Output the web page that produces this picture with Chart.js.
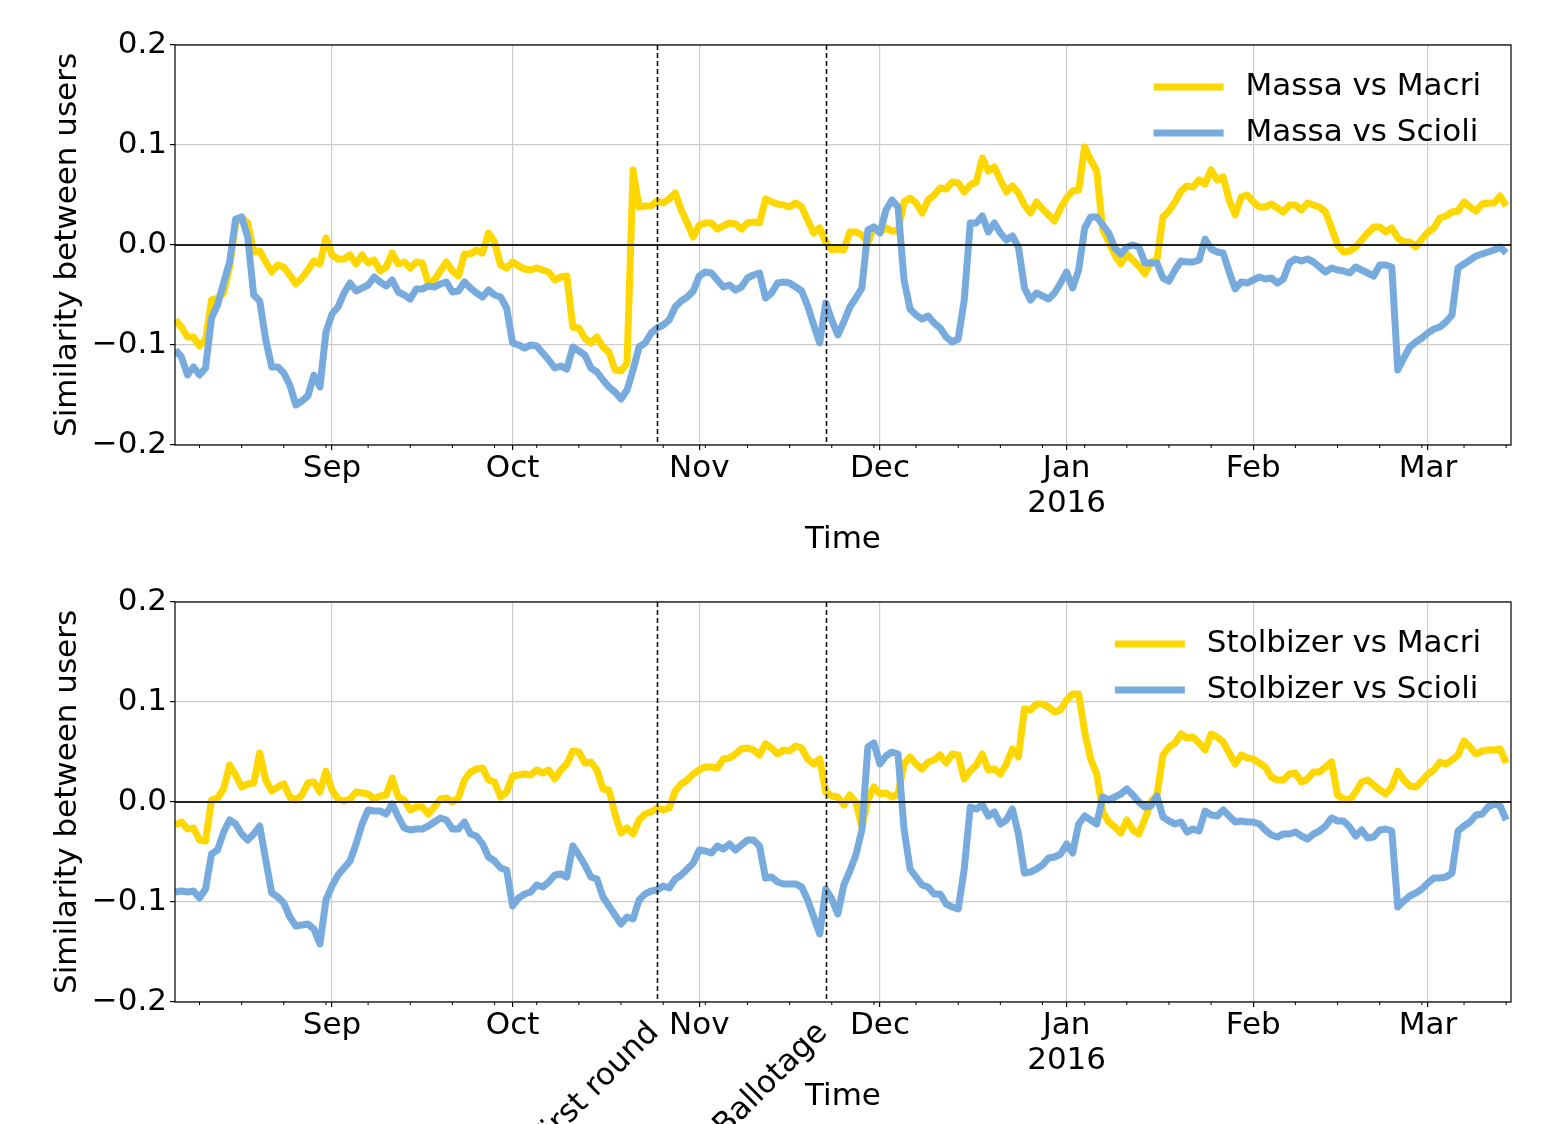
<!DOCTYPE html>
<html>
<head>
<meta charset="utf-8">
<script src="https://cdn.jsdelivr.net/npm/chart.js@4.4.1/dist/chart.umd.min.js"></script>
<style>
  body { margin: 0; background: #fff; }
  #wrap { position: relative; width: 1557px; height: 1124px; }
  canvas { position: absolute; left: 0; }
</style>
</head>
<body>
<div id="wrap">
  <canvas id="top" width="1557" height="557" style="top:0"></canvas>
  <canvas id="bottom" width="1557" height="567" style="top:557px"></canvas>
</div>
<script>
// one value per day, starting at firstDate
const firstDate = '2015-08-06'
const firstMonday = '2015-08-10'
const monthTicks = ['2015-09-01', '2015-10-01', '2015-11-01', '2015-12-01', '2016-01-01', '2016-02-01', '2016-03-01']
const monthLabels = ['Sep', 'Oct', 'Nov', 'Dec', ['Jan', '2016'], 'Feb', 'Mar']
const eventDates = ['2015-10-25', '2015-11-22']
const eventLabels = ['First round', 'Ballotage']
const yTicks = [-0.2, -0.1, 0, 0.1, 0.2]

const massaMacri = [
  -0.075, -0.082, -0.092, -0.092, -0.101, -0.095, -0.055, -0.053, -0.048, -0.022,
  0.022, 0.028, 0.022, -0.007, -0.006, -0.017, -0.027, -0.020, -0.022, -0.030,
  -0.039, -0.033, -0.025, -0.016, -0.019, 0.007, -0.010, -0.014, -0.014, -0.010,
  -0.019, -0.010, -0.018, -0.015, -0.026, -0.022, -0.008, -0.019, -0.017, -0.023,
  -0.017, -0.018, -0.038, -0.035, -0.026, -0.017, -0.026, -0.031, -0.009, -0.009,
  -0.005, -0.008, 0.012, 0.003, -0.020, -0.023, -0.017, -0.021, -0.024, -0.025,
  -0.023, -0.025, -0.027, -0.035, -0.032, -0.031, -0.082, -0.083, -0.093, -0.098,
  -0.092, -0.102, -0.107, -0.125, -0.126, -0.118, 0.075, 0.038, 0.039, 0.039,
  0.044, 0.042, 0.046, 0.052, 0.035, 0.022, 0.008, 0.020, 0.022, 0.022,
  0.016, 0.019, 0.022, 0.021, 0.016, 0.022, 0.023, 0.022, 0.046, 0.043,
  0.041, 0.040, 0.038, 0.042, 0.038, 0.025, 0.012, 0.017, 0.003, -0.005,
  -0.004, -0.005, 0.013, 0.013, 0.010, 0.002, 0.018, 0.013, 0.017, 0.014,
  0.014, 0.043, 0.047, 0.042, 0.032, 0.045, 0.050, 0.057, 0.056, 0.063,
  0.062, 0.053, 0.060, 0.063, 0.087, 0.074, 0.078, 0.065, 0.053, 0.059,
  0.052, 0.040, 0.032, 0.043, 0.036, 0.030, 0.024, 0.037, 0.047, 0.054,
  0.055, 0.098, 0.085, 0.074, 0.015, 0.003, -0.010, -0.019, -0.009, -0.015,
  -0.021, -0.029, -0.017, -0.015, 0.028, 0.034, 0.043, 0.054, 0.059, 0.058,
  0.065, 0.061, 0.075, 0.065, 0.068, 0.045, 0.030, 0.048, 0.050, 0.043,
  0.038, 0.038, 0.041, 0.037, 0.033, 0.040, 0.040, 0.035, 0.042, 0.040,
  0.038, 0.033, 0.017, 0.000, -0.007, -0.006, -0.002, 0.005, 0.012, 0.018,
  0.018, 0.013, 0.017, 0.007, 0.003, 0.003, -0.002, 0.006, 0.013, 0.017,
  0.027, 0.029, 0.033, 0.034, 0.043, 0.038, 0.034, 0.041, 0.042, 0.042,
  0.049, 0.039
]

const massaScioli = [
  -0.105, -0.112, -0.130, -0.122, -0.130, -0.123, -0.073, -0.060, -0.038, -0.017,
  0.026, 0.028, 0.008, -0.050, -0.056, -0.095, -0.122, -0.122, -0.128, -0.140,
  -0.160, -0.156, -0.151, -0.130, -0.142, -0.087, -0.069, -0.062, -0.048, -0.038,
  -0.046, -0.043, -0.040, -0.032, -0.037, -0.041, -0.035, -0.047, -0.050, -0.054,
  -0.044, -0.044, -0.041, -0.042, -0.039, -0.037, -0.047, -0.046, -0.037, -0.043,
  -0.048, -0.052, -0.045, -0.050, -0.052, -0.063, -0.098, -0.100, -0.103, -0.100,
  -0.101, -0.108, -0.115, -0.123, -0.121, -0.124, -0.102, -0.106, -0.110, -0.123,
  -0.127, -0.135, -0.142, -0.147, -0.154, -0.145, -0.125, -0.102, -0.098, -0.088,
  -0.083, -0.080, -0.075, -0.062, -0.056, -0.052, -0.046, -0.031, -0.027, -0.028,
  -0.035, -0.042, -0.040, -0.045, -0.042, -0.033, -0.030, -0.028, -0.053, -0.048,
  -0.038, -0.037, -0.038, -0.042, -0.046, -0.061, -0.080, -0.098, -0.058, -0.075,
  -0.090, -0.077, -0.062, -0.053, -0.043, 0.015, 0.018, 0.012, 0.035, 0.045,
  0.038, -0.035, -0.064, -0.070, -0.074, -0.071, -0.078, -0.083, -0.092, -0.097,
  -0.094, -0.055, 0.022, 0.022, 0.029, 0.013, 0.022, 0.012, 0.005, 0.009,
  -0.002, -0.043, -0.055, -0.048, -0.051, -0.054, -0.048, -0.038, -0.027, -0.043,
  -0.025, 0.017, 0.028, 0.028, 0.020, 0.012, -0.003, -0.009, -0.002, 0.000,
  -0.002, -0.018, -0.018, -0.018, -0.033, -0.036, -0.025, -0.016, -0.017, -0.017,
  -0.015, 0.006, -0.004, -0.007, -0.008, -0.027, -0.044, -0.037, -0.038, -0.035,
  -0.032, -0.034, -0.033, -0.038, -0.034, -0.018, -0.014, -0.016, -0.014, -0.017,
  -0.022, -0.027, -0.023, -0.025, -0.026, -0.028, -0.022, -0.025, -0.028, -0.031,
  -0.020, -0.020, -0.022, -0.125, -0.113, -0.102, -0.097, -0.093, -0.088, -0.084,
  -0.082, -0.077, -0.070, -0.023, -0.019, -0.015, -0.011, -0.009, -0.007, -0.005,
  -0.002, -0.008
]

const stolbizerMacri = [
  -0.023, -0.020, -0.027, -0.026, -0.038, -0.039, 0.002, 0.004, 0.013, 0.037,
  0.027, 0.015, 0.018, 0.019, 0.049, 0.022, 0.011, 0.015, 0.018, 0.005,
  0.002, 0.007, 0.019, 0.020, 0.010, 0.031, 0.012, 0.003, 0.001, 0.003,
  0.010, 0.009, 0.008, 0.003, 0.006, 0.007, 0.024, 0.005, 0.002, -0.008,
  -0.005, -0.005, -0.012, -0.005, 0.003, 0.004, 0.000, 0.004, 0.022, 0.030,
  0.033, 0.034, 0.022, 0.020, 0.005, 0.010, 0.026, 0.027, 0.028, 0.027,
  0.032, 0.029, 0.032, 0.023, 0.032, 0.038, 0.051, 0.050, 0.039, 0.040,
  0.032, 0.013, 0.012, -0.012, -0.031, -0.026, -0.032, -0.018, -0.012, -0.010,
  -0.006, -0.008, -0.006, 0.011, 0.018, 0.022, 0.028, 0.032, 0.035, 0.035,
  0.034, 0.043, 0.044, 0.048, 0.053, 0.054, 0.052, 0.047, 0.058, 0.054,
  0.048, 0.052, 0.051, 0.056, 0.054, 0.043, 0.038, 0.043, 0.010, 0.006,
  0.005, -0.003, 0.007, 0.000, -0.025, 0.002, 0.015, 0.008, 0.009, 0.005,
  0.008, 0.038, 0.045, 0.038, 0.033, 0.040, 0.042, 0.047, 0.039, 0.048,
  0.047, 0.023, 0.031, 0.037, 0.048, 0.032, 0.033, 0.028, 0.038, 0.053,
  0.045, 0.093, 0.092, 0.098, 0.098, 0.095, 0.090, 0.092, 0.102, 0.108,
  0.108, 0.070, 0.043, 0.028, -0.010, -0.020, -0.025, -0.031, -0.018, -0.028,
  -0.032, -0.017, 0.000, 0.007, 0.047, 0.055, 0.059, 0.068, 0.064, 0.065,
  0.059, 0.052, 0.068, 0.065, 0.060, 0.049, 0.038, 0.047, 0.044, 0.043,
  0.039, 0.035, 0.025, 0.022, 0.022, 0.028, 0.029, 0.020, 0.023, 0.030,
  0.030, 0.035, 0.040, 0.007, 0.003, 0.002, 0.010, 0.020, 0.022, 0.017,
  0.012, 0.008, 0.015, 0.031, 0.022, 0.016, 0.015, 0.021, 0.028, 0.032,
  0.040, 0.038, 0.042, 0.047, 0.061, 0.055, 0.048, 0.051, 0.052, 0.052,
  0.053, 0.039
]

const stolbizerScioli = [
  -0.090, -0.089, -0.090, -0.089, -0.096, -0.087, -0.052, -0.048, -0.030, -0.018,
  -0.022, -0.032, -0.038, -0.032, -0.024, -0.058, -0.091, -0.095, -0.101, -0.115,
  -0.124, -0.123, -0.122, -0.127, -0.142, -0.098, -0.084, -0.073, -0.066, -0.059,
  -0.042, -0.022, -0.008, -0.009, -0.009, -0.012, -0.002, -0.015, -0.026, -0.028,
  -0.027, -0.027, -0.024, -0.020, -0.016, -0.018, -0.027, -0.027, -0.020, -0.032,
  -0.034, -0.042, -0.055, -0.059, -0.066, -0.068, -0.104, -0.096, -0.092, -0.090,
  -0.083, -0.085, -0.080, -0.073, -0.072, -0.075, -0.044, -0.053, -0.063, -0.075,
  -0.077, -0.095, -0.104, -0.113, -0.122, -0.115, -0.117, -0.098, -0.092, -0.089,
  -0.088, -0.084, -0.086, -0.077, -0.073, -0.067, -0.061, -0.048, -0.049, -0.051,
  -0.044, -0.047, -0.042, -0.048, -0.043, -0.038, -0.038, -0.044, -0.076, -0.075,
  -0.080, -0.082, -0.082, -0.082, -0.085, -0.098, -0.115, -0.132, -0.087, -0.097,
  -0.112, -0.083, -0.069, -0.053, -0.028, 0.055, 0.059, 0.038, 0.046, 0.050,
  0.048, -0.027, -0.067, -0.075, -0.083, -0.085, -0.092, -0.092, -0.102, -0.105,
  -0.107, -0.067, -0.005, -0.007, -0.003, -0.014, -0.010, -0.022, -0.018, -0.007,
  -0.032, -0.071, -0.070, -0.067, -0.063, -0.056, -0.055, -0.052, -0.042, -0.051,
  -0.022, -0.014, -0.018, -0.022, 0.005, 0.002, 0.005, 0.008, 0.013, 0.007,
  0.000, -0.005, -0.004, 0.006, -0.015, -0.019, -0.022, -0.020, -0.030, -0.027,
  -0.029, -0.009, -0.013, -0.014, -0.008, -0.014, -0.020, -0.019, -0.020, -0.020,
  -0.022, -0.028, -0.033, -0.035, -0.032, -0.032, -0.030, -0.034, -0.037, -0.032,
  -0.029, -0.024, -0.016, -0.019, -0.019, -0.025, -0.034, -0.028, -0.036, -0.035,
  -0.028, -0.027, -0.029, -0.105, -0.099, -0.094, -0.091, -0.087, -0.081, -0.076,
  -0.076, -0.075, -0.071, -0.029, -0.024, -0.020, -0.013, -0.012, -0.005, -0.002,
  -0.004, -0.018
]

const YELLOW = '#ffd700'
const BLUE = '#77aadd'
const GRID = '#cccccc'

Chart.defaults.font.family = "'DejaVu Sans', sans-serif"
Chart.defaults.font.size = 31
Chart.defaults.color = '#000'

// x axis is in days since 2015-08-01
const DAY = 86400000
const dayOf = s => (Date.parse(s) - Date.parse('2015-08-01')) / DAY
const days = massaMacri.map((_, i) => dayOf(firstDate) + i)
const monthDays = monthTicks.map(dayOf)
const eventDays = eventDates.map(dayOf)
const xMin = 4.93
const xMax = 226.8
const weekDays = []
for (let d = dayOf(firstMonday); d <= xMax; d += 7) {
  if (!monthDays.includes(d)) weekDays.push(d)
}

const fmt = v => (Math.abs(v) < 1e-9 ? '0.0' : v.toFixed(1)).replace('-', '\u2212')

const decorations = {
  id: 'decorations',
  afterDatasetsDraw(chart, args, opts) {
    const { ctx, chartArea: a, scales: { x, y } } = chart
    const seg = (x1, y1, x2, y2) => { ctx.beginPath(); ctx.moveTo(x1, y1); ctx.lineTo(x2, y2); ctx.stroke() }
    ctx.save()

    // zero line
    ctx.strokeStyle = '#222'
    ctx.lineWidth = 2
    const y0 = y.getPixelForValue(0)
    seg(a.left, y0, a.right, y0)

    // election days
    ctx.strokeStyle = '#111'
    ctx.lineWidth = 1.6
    ctx.setLineDash([5, 3])
    eventDays.forEach(d => {
      const px = Math.round(x.getPixelForValue(d)) + 0.5
      seg(px, a.top, px, a.bottom)
    })
    ctx.setLineDash([])

    // frame + weekly minor ticks
    ctx.strokeStyle = '#000'
    ctx.lineWidth = 1.2
    ctx.strokeRect(a.left, a.top, a.right - a.left, a.bottom - a.top)
    ctx.lineWidth = 1
    weekDays.forEach(d => {
      const px = x.getPixelForValue(d)
      seg(px, a.bottom, px, a.bottom + 3)
    })

    // legend, right aligned in the top right corner
    ctx.font = "31px 'DejaVu Sans'"
    ctx.textBaseline = 'middle'
    ctx.textAlign = 'left'
    const sets = chart.data.datasets
    const textW = Math.max(...sets.map(s => ctx.measureText(s.label).width))
    const tx = opts.legendRight - textW
    sets.forEach((s, i) => {
      const ly = a.top + 42 + i * 46
      ctx.strokeStyle = s.borderColor
      ctx.lineWidth = 7
      seg(tx - 92, ly, tx - 22, ly)
      ctx.fillStyle = '#000'
      ctx.fillText(s.label, tx, ly)
    })

    // rotated election labels under the lower panel
    if (opts.eventText) {
      ctx.textAlign = 'right'
      ctx.textBaseline = 'bottom'
      eventDays.forEach((d, i) => {
        ctx.save()
        ctx.translate(x.getPixelForValue(d) + 8, a.bottom + 37)
        ctx.rotate(-Math.PI / 4)
        ctx.fillText(eventLabels[i], 0, 0)
        ctx.restore()
      })
    }
    ctx.restore()
  }
}

function makeChart(id, series, bottomPad, eventText) {
  return new Chart(document.getElementById(id), {
    type: 'line',
    data: {
      datasets: series.map(s => ({
        label: s.label,
        data: s.values.map((v, i) => ({ x: days[i], y: v })),
        borderColor: s.color,
        borderWidth: 7,
        borderJoinStyle: 'round',
        pointRadius: 0,
        tension: 0,
        order: s.order
      }))
    },
    options: {
      responsive: false,
      animation: false,
      layout: { padding: { top: 45, right: 46, bottom: bottomPad, left: 0 } },
      plugins: {
        legend: { display: false },
        tooltip: { enabled: false },
        decorations: { legendRight: 1481, eventText }
      },
      scales: {
        x: {
          type: 'linear',
          min: xMin,
          max: xMax,
          afterBuildTicks: s => { s.ticks = monthDays.map(v => ({ value: v })) },
          afterFit: s => { s.height = 112 },
          border: { display: false },
          grid: { color: GRID, lineWidth: 1.2, tickLength: 5, tickColor: '#000', tickWidth: 1.2 },
          ticks: {
            autoSkip: false,
            maxRotation: 0,
            padding: 1,
            font: { size: 31, lineHeight: 1.13 },
            callback: v => monthLabels[monthDays.indexOf(v)]
          },
          title: { display: true, text: 'Time', padding: { top: 0, bottom: -2 } }
        },
        y: {
          min: -0.2,
          max: 0.2,
          afterBuildTicks: s => { s.ticks = yTicks.map(v => ({ value: v })) },
          afterFit: s => { s.width = 175 },
          border: { display: false },
          grid: { color: GRID, lineWidth: 1.2, tickLength: 5, tickColor: '#000', tickWidth: 1.2 },
          ticks: { padding: 3, callback: v => fmt(v) },
          title: { display: true, text: 'Similarity between users', padding: { top: 49, bottom: 0 } }
        }
      }
    },
    plugins: [decorations]
  })
}

makeChart('top', [
  { label: 'Massa vs Macri', values: massaMacri, color: YELLOW, order: 1 },
  { label: 'Massa vs Scioli', values: massaScioli, color: BLUE, order: 0 }
], 0, false)

makeChart('bottom', [
  { label: 'Stolbizer vs Macri', values: stolbizerMacri, color: YELLOW, order: 1 },
  { label: 'Stolbizer vs Scioli', values: stolbizerScioli, color: BLUE, order: 0 }
], 10, true)
</script>
</body>
</html>
